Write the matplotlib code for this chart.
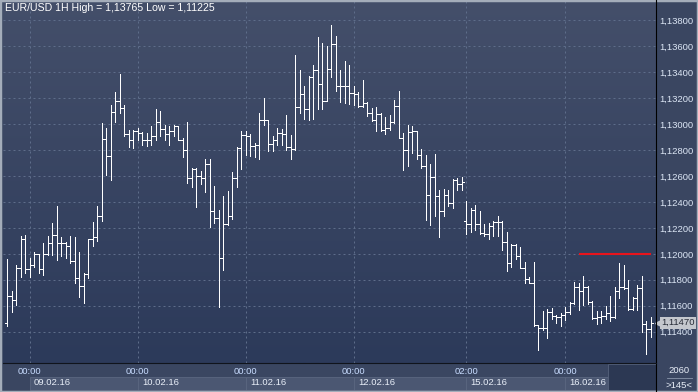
import matplotlib
matplotlib.use("Agg")
import matplotlib.pyplot as plt
import matplotlib.transforms as mtransforms
import numpy as np
from matplotlib.collections import LineCollection
from matplotlib.colors import LinearSegmentedColormap
from matplotlib.lines import Line2D
from matplotlib.patches import Rectangle

plt.rcParams['font.family'] = ['Liberation Sans', 'DejaVu Sans']

# EUR/USD hourly bars
opens = [1.11465, 1.11676, 1.11645, 1.11890, 1.12116, 1.11882, 1.11915, 1.11997, 1.11882, 1.11997,
         1.12082, 1.12147, 1.12087, 1.12087, 1.12062, 1.11946, 1.11812, 1.11753, 1.11843, 1.12116,
         1.12129, 1.12293, 1.12888, 1.12756, 1.13094, 1.13178, 1.13124, 1.12926, 1.12877, 1.12944,
         1.12930, 1.12875, 1.12880, 1.12910, 1.13014, 1.12962, 1.12926, 1.12950, 1.12988, 1.12880,
         1.12803, 1.12584, 1.12654, 1.12597, 1.12584, 1.12695, 1.12327, 1.12275, 1.11967, 1.12229,
         1.12293, 1.12584, 1.12816, 1.12919, 1.12910, 1.12834, 1.12841, 1.13030, 1.13035, 1.12849,
         1.12880, 1.12932, 1.12927, 1.12821, 1.12808, 1.13133, 1.13236, 1.13117, 1.13364, 1.13421,
         1.13310, 1.13181, 1.13429, 1.13619, 1.13297, 1.13292, 1.13292, 1.13241, 1.13236, 1.13138,
         1.13163, 1.13086, 1.13035, 1.13079, 1.12958, 1.12970, 1.13017, 1.13138, 1.12893, 1.12803,
         1.12940, 1.12950, 1.12764, 1.12680, 1.12456, 1.12592, 1.12443, 1.12332, 1.12456, 1.12389,
         1.12571, 1.12538, 1.12250, 1.12229, 1.12340, 1.12229, 1.12160, 1.12152, 1.12216, 1.12242,
         1.12242, 1.12090, 1.11928, 1.12069, 1.11987, 1.11894, 1.11804, 1.11779, 1.11452, 1.11426,
         1.11426, 1.11555, 1.11521, 1.11511, 1.11529, 1.11555, 1.11624, 1.11748, 1.11714, 1.11748,
         1.11632, 1.11503, 1.11511, 1.11521, 1.11547, 1.11511, 1.11714, 1.11748, 1.11740, 1.11573,
         1.11663, 1.11735, 1.11457, 1.11418]
highs = [1.11959, 1.11714, 1.11915, 1.12134, 1.12147, 1.11967, 1.12018, 1.12000, 1.12087, 1.12134,
         1.12237, 1.12370, 1.12129, 1.12095, 1.12134, 1.12129, 1.12018, 1.11850, 1.12116, 1.12242,
         1.12370, 1.13009, 1.12970, 1.13150, 1.13248, 1.13390, 1.13150, 1.12957, 1.12952, 1.12970,
         1.12937, 1.12930, 1.12983, 1.13117, 1.13104, 1.12996, 1.12983, 1.12996, 1.12990, 1.12893,
         1.13020, 1.12660, 1.12660, 1.12640, 1.12730, 1.12730, 1.12525, 1.12340, 1.12443, 1.12486,
         1.12635, 1.12823, 1.12950, 1.12944, 1.12926, 1.12854, 1.13090, 1.13200, 1.13035, 1.12906,
         1.12970, 1.12965, 1.13073, 1.12914, 1.13532, 1.13421, 1.13297, 1.13375, 1.13459, 1.13670,
         1.13627, 1.13601, 1.13765, 1.13678, 1.13421, 1.13485, 1.13459, 1.13292, 1.13248, 1.13344,
         1.13171, 1.13125, 1.13130, 1.13085, 1.13053, 1.13073, 1.13189, 1.13254, 1.12932, 1.12996,
         1.12983, 1.12950, 1.12808, 1.12764, 1.12695, 1.12772, 1.12489, 1.12499, 1.12494, 1.12577,
         1.12584, 1.12592, 1.12409, 1.12353, 1.12378, 1.12327, 1.12229, 1.12237, 1.12250, 1.12293,
         1.12250, 1.12172, 1.12077, 1.12077, 1.12050, 1.11941, 1.11825, 1.11936, 1.11452, 1.11562,
         1.11573, 1.11580, 1.11529, 1.11542, 1.11593, 1.11632, 1.11786, 1.11773, 1.11830, 1.11753,
         1.11640, 1.11562, 1.11560, 1.11598, 1.11676, 1.11748, 1.11933, 1.11915, 1.11799, 1.11665,
         1.11761, 1.11830, 1.11485, 1.11510]
lows = [1.11447, 1.11555, 1.11606, 1.11825, 1.11850, 1.11825, 1.11902, 1.11850, 1.11838, 1.11992,
        1.11992, 1.11954, 1.11980, 1.11967, 1.11933, 1.11774, 1.11670, 1.11620, 1.11812, 1.12057,
        1.12100, 1.12250, 1.12605, 1.12570, 1.13020, 1.13090, 1.12906, 1.12828, 1.12816, 1.12880,
        1.12840, 1.12834, 1.12840, 1.12875, 1.12910, 1.12875, 1.12840, 1.12910, 1.12875, 1.12750,
        1.12545, 1.12515, 1.12365, 1.12540, 1.12480, 1.12210, 1.12237, 1.11588, 1.11876, 1.12224,
        1.12268, 1.12515, 1.12654, 1.12764, 1.12756, 1.12750, 1.12730, 1.12996, 1.12790, 1.12790,
        1.12842, 1.12842, 1.12803, 1.12734, 1.12803, 1.13086, 1.13042, 1.13035, 1.13042, 1.13120,
        1.13120, 1.13176, 1.13362, 1.13259, 1.13171, 1.13163, 1.13156, 1.13150, 1.13130, 1.13130,
        1.13060, 1.13022, 1.12945, 1.12945, 1.12924, 1.12958, 1.13009, 1.12893, 1.12649, 1.12674,
        1.12777, 1.12734, 1.12662, 1.12263, 1.12224, 1.12293, 1.12129, 1.12293, 1.12371, 1.12353,
        1.12494, 1.12494, 1.12154, 1.12165, 1.12185, 1.12154, 1.12134, 1.12116, 1.12134, 1.12134,
        1.12026, 1.11871, 1.11902, 1.11959, 1.11894, 1.11773, 1.11773, 1.11444, 1.11259, 1.11413,
        1.11349, 1.11495, 1.11465, 1.11444, 1.11490, 1.11537, 1.11614, 1.11568, 1.11606, 1.11614,
        1.11495, 1.11459, 1.11465, 1.11495, 1.11485, 1.11503, 1.11658, 1.11727, 1.11568, 1.11568,
        1.11568, 1.11400, 1.11225, 1.11362]
closes = [1.11676, 1.11645, 1.11890, 1.12116, 1.11882, 1.11915, 1.11997, 1.11882, 1.11997, 1.12082,
          1.12147, 1.12087, 1.12087, 1.12062, 1.11946, 1.11812, 1.11753, 1.11843, 1.12116, 1.12129,
          1.12293, 1.12888, 1.12756, 1.13094, 1.13178, 1.13124, 1.12926, 1.12877, 1.12944, 1.12930,
          1.12875, 1.12880, 1.12910, 1.13014, 1.12962, 1.12926, 1.12950, 1.12988, 1.12880, 1.12803,
          1.12584, 1.12654, 1.12597, 1.12584, 1.12695, 1.12327, 1.12275, 1.11967, 1.12229, 1.12293,
          1.12584, 1.12816, 1.12919, 1.12910, 1.12834, 1.12841, 1.13030, 1.13035, 1.12849, 1.12880,
          1.12932, 1.12927, 1.12821, 1.12808, 1.13133, 1.13236, 1.13117, 1.13364, 1.13421, 1.13310,
          1.13181, 1.13429, 1.13619, 1.13297, 1.13292, 1.13292, 1.13241, 1.13236, 1.13138, 1.13163,
          1.13086, 1.13035, 1.13079, 1.12958, 1.12970, 1.13017, 1.13138, 1.12893, 1.12803, 1.12940,
          1.12950, 1.12764, 1.12680, 1.12456, 1.12592, 1.12443, 1.12332, 1.12456, 1.12389, 1.12571,
          1.12538, 1.12553, 1.12229, 1.12340, 1.12229, 1.12160, 1.12152, 1.12216, 1.12242, 1.12242,
          1.12090, 1.11928, 1.12069, 1.11987, 1.11894, 1.11804, 1.11779, 1.11452, 1.11426, 1.11426,
          1.11555, 1.11521, 1.11511, 1.11529, 1.11555, 1.11624, 1.11748, 1.11714, 1.11748, 1.11632,
          1.11503, 1.11511, 1.11521, 1.11547, 1.11511, 1.11714, 1.11748, 1.11740, 1.11573, 1.11663,
          1.11735, 1.11457, 1.11418, 1.11470]

price_ticks = [1.114, 1.116, 1.118, 1.120, 1.122, 1.124, 1.126, 1.128, 1.130, 1.132, 1.134, 1.136, 1.138]
day_starts = [5, 29, 53, 77, 102, 124]
time_labels = ['00:00', '00:00', '00:00', '00:00', '02:00', '00:00']
date_labels = ['09.02.16', '10.02.16', '11.02.16', '12.02.16', '15.02.16', '16.02.16']
last_price = 1.11470
level_price = 1.12000
level_start, level_end = 127, 143
title = 'EUR/USD 1H High = 1,13765 Low = 1,11225'

W, H = 698, 392
fig = plt.figure(figsize=(W / 100, H / 100), dpi=100, facecolor='#3a4661')
left, right, bottom = 3, 655.5, 363.3
ax = fig.add_axes([left / W, (H - bottom) / H, (right - left) / W, bottom / H])

n = len(closes)
xlim = (-0.96, n + 0.04)
ylim = (1.11156, 1.13958)

# background gradient of the plot area
bg = LinearSegmentedColormap.from_list('bg', ['#444f6a', '#2c3a5a'])
ax.imshow(np.linspace(0, 1, 256).reshape(-1, 1), cmap=bg, aspect='auto',
          extent=[xlim[0], xlim[1], ylim[0], ylim[1]], zorder=0)

x = np.arange(n)
segs = [[(i, lows[i]), (i, highs[i])] for i in x]
segs += [[(i - 0.45, opens[i]), (i, opens[i])] for i in x]
segs += [[(i, closes[i]), (i + 0.45, closes[i])] for i in x]
ax.add_collection(LineCollection(segs, colors='white', linewidths=0.7, antialiased=False, zorder=3))

ax.hlines(level_price, level_start, level_end, color='#e8141c', lw=1.5, zorder=4)

ax.set_xlim(*xlim)
ax.set_ylim(*ylim)
ax.set_yticks(price_ticks)
ax.set_yticklabels([f'{v:.5f}'.replace('.', ',') for v in price_ticks])
ax.yaxis.tick_right()
ax.tick_params(axis='y', length=0, pad=2.5, labelsize=6.8, labelcolor='#dce6f5')
ax.set_xticks(day_starts)
ax.set_xticklabels(time_labels)
ax.tick_params(axis='x', length=0, pad=2.5, labelsize=6.8, labelcolor='#c8dcff')
ax.grid(True, color='#5e6d8a', lw=0.72, ls=(0, (2, 3)))
ax.set_axisbelow(True)
for s in ax.spines.values():
    s.set_visible(False)

# date row under the time labels
tr = mtransforms.blended_transform_factory(ax.transData, ax.transAxes)
edges = day_starts + [133.5]
for i, lab in enumerate(date_labels):
    ax.add_patch(Rectangle((edges[i], -0.073), edges[i + 1] - edges[i], 0.036, transform=tr,
                           fc='#4b5772', ec='#5a6680', lw=0.6, clip_on=False))
    ax.text(edges[i] + 0.9, -0.054, lab, transform=tr, ha='left', va='center',
            fontsize=6.8, color='#e8eef8', clip_on=False)
ax.add_patch(Rectangle((133.5, -0.074), xlim[1] - 133.5, 0.071, transform=tr,
                       fc='#2c3853', ec='#56627c', lw=0.6, clip_on=False))

ax.text(0.003, 0.979, title, transform=ax.transAxes, ha='left', va='center',
        fontsize=7.6, color='white')

# last price tag: grey box with a small arrow pointing at the axis
trp = mtransforms.blended_transform_factory(ax.transAxes, ax.transData)
ax.text(1.0085, last_price, '1,11470', transform=trp, ha='left', va='center', fontsize=6.8,
        color='#262b36', bbox=dict(boxstyle='square,pad=0.15', fc='#c4c7cd', ec='none'),
        clip_on=False, zorder=6)
ax.plot([1.0035], [last_price], marker='<', ms=5, color='#c4c7cd', transform=trp,
        clip_on=False, zorder=6)

# frame lines
fig.add_artist(Line2D([right / W, right / W], [0, 1], color='black', lw=0.8))
fig.add_artist(Line2D([left / W, right / W], [(H - bottom) / H] * 2, color='#10141c', lw=0.8))
fig.add_artist(Line2D([667 / W, 692 / W], [1 - 377.5 / H] * 2, color='#8a96aa', lw=0.6))
fig.text(679.5 / W, 1 - 370.5 / H, '2060', ha='center', va='center', fontsize=6.8, color='#e8eef8')
fig.text(679.5 / W, 1 - 385 / H, '>145<', ha='center', va='center', fontsize=6.8, color='#e8eef8')
fig.add_artist(Rectangle((0, 0), 1, 1, transform=fig.transFigure, fill=False, ec='#a4adba', lw=2.5))

fig.savefig('out.png', dpi=100, facecolor=fig.get_facecolor())
